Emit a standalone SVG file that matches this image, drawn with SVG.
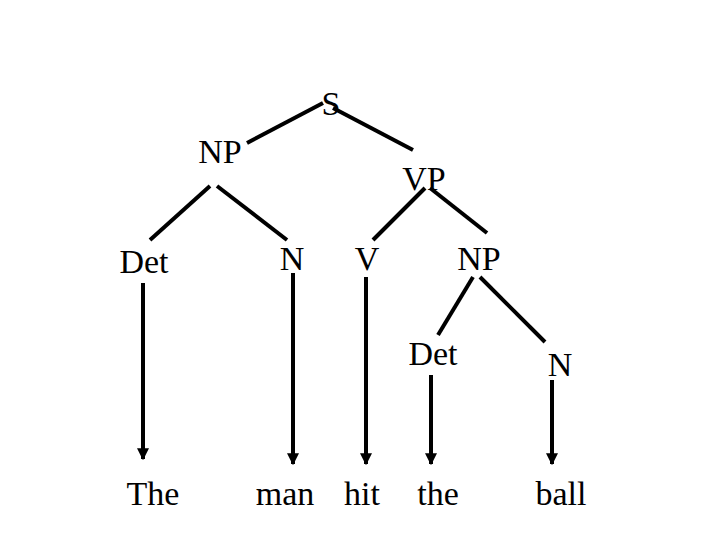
<svg xmlns="http://www.w3.org/2000/svg" width="720" height="540" viewBox="0 0 720 540">
<defs>
<marker id="ah" viewBox="0 0 10 10" refX="9" refY="5" markerWidth="3" markerHeight="3" orient="auto" markerUnits="strokeWidth"><path d="M0,0 L10,5 L0,10 z" fill="#000"/></marker>
<style>
text{font-family:"Liberation Serif","Times New Roman",serif;font-size:34px;fill:#000}
.l{stroke:#000;stroke-width:4;fill:none}
.a{stroke:#000;stroke-width:4;fill:none;marker-end:url(#ah)}
</style>
</defs>
<rect width="720" height="540" fill="#fff"/>
<g id="connectors">
<line class="l" x1="247" y1="143" x2="323" y2="103"/>
<line class="l" x1="333" y1="108" x2="413" y2="150"/>
<line class="l" x1="150" y1="240" x2="210" y2="186"/>
<line class="l" x1="217" y1="186" x2="287" y2="240"/>
<line class="l" x1="373" y1="240" x2="425" y2="188"/>
<line class="l" x1="430" y1="188" x2="487" y2="233"/>
<line class="l" x1="438" y1="335" x2="473" y2="277"/>
<line class="l" x1="480" y1="277" x2="545" y2="342"/>
<line class="a" x1="143" y1="283" x2="143" y2="459"/>
<line class="a" x1="293" y1="273" x2="293" y2="464"/>
<line class="a" x1="366" y1="277" x2="366" y2="464"/>
<line class="a" x1="431" y1="375" x2="431" y2="464"/>
<line class="a" x1="552" y1="380" x2="552" y2="464"/>
</g>
<g id="S"><text x="331" y="115" text-anchor="middle">S</text></g>
<g id="NP1"><text x="220" y="163" text-anchor="middle">NP</text></g>
<g id="VP"><text x="424" y="190" text-anchor="middle">VP</text></g>
<g id="Det1"><text x="144" y="273" text-anchor="middle">Det</text></g>
<g id="N1"><text x="292" y="270" text-anchor="middle">N</text></g>
<g id="V"><text x="367" y="270" text-anchor="middle">V</text></g>
<g id="NP2"><text x="479" y="270" text-anchor="middle">NP</text></g>
<g id="Det2"><text x="433" y="365" text-anchor="middle">Det</text></g>
<g id="N2"><text x="560" y="376" text-anchor="middle">N</text></g>
<g id="The"><text x="153" y="505" text-anchor="middle">The</text></g>
<g id="man"><text x="285" y="505" text-anchor="middle">man</text></g>
<g id="hit"><text x="362" y="505" text-anchor="middle">hit</text></g>
<g id="the"><text x="438" y="505" text-anchor="middle">the</text></g>
<g id="ball"><text x="561" y="505" text-anchor="middle">ball</text></g>
</svg>
